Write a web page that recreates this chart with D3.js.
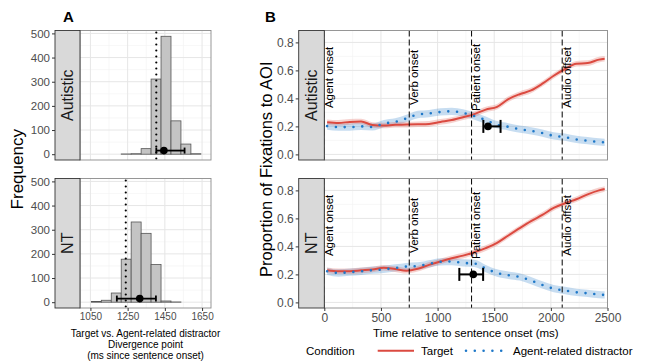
<!DOCTYPE html>
<html>
<head>
<meta charset="utf-8">
<script src="https://cdn.jsdelivr.net/npm/d3@7"></script>
<style>
  body { margin: 0; background: #fff; }
  svg { font-family: "Liberation Sans", Arial, sans-serif; }
  .tick text { fill: #4d4d4d; }
  .tick line { stroke: #333; }
</style>
</head>
<body>
<div id="chart"></div>
<script>
// ---- data ----
var groups = ["Autistic", "NT"];

// panel A: bootstrap histogram of divergence points
var binEdges = [1055, 1108.5, 1162, 1215.5, 1269, 1322.5, 1376, 1429.5, 1483, 1536.5, 1590, 1643.5];
var autisticCounts = [0, 0, 0, 1, 2, 23, 311, 488, 138, 42, 2];
var ntCounts = [3, 8, 38, 178, 332, 285, 156, 5, 1, 0, 0];
var refLine = [1404, 1240];
var divEstimate = [1445, 1315];
var divLow = [1404, 1192];
var divHigh = [1556, 1402];
var histTicks = [1050, 1250, 1450, 1650];

// panel B: proportion of fixations over time
var times = [25, 125, 225, 325, 425, 525, 625, 725, 825, 925, 1025, 1125, 1225,
  1325, 1425, 1525, 1625, 1725, 1825, 1925, 2025, 2125, 2225, 2325, 2425, 2475];
var autTarget = [0.23, 0.225, 0.232, 0.235, 0.21, 0.206, 0.212, 0.213, 0.215, 0.218, 0.232, 0.245, 0.265,
  0.288, 0.32, 0.34, 0.395, 0.43, 0.457, 0.505, 0.562, 0.61, 0.648, 0.652, 0.677, 0.683];
var autDistractor = [0.202, 0.195, 0.195, 0.2, 0.196, 0.22, 0.232, 0.257, 0.285, 0.292, 0.303, 0.308, 0.296,
  0.274, 0.245, 0.212, 0.197, 0.18, 0.168, 0.152, 0.133, 0.123, 0.107, 0.098, 0.089, 0.086];
var ntTarget = [0.23, 0.222, 0.223, 0.229, 0.235, 0.248, 0.238, 0.226, 0.24, 0.268, 0.292, 0.315, 0.334,
  0.358, 0.388, 0.425, 0.478, 0.53, 0.58, 0.625, 0.675, 0.708, 0.737, 0.772, 0.8, 0.81];
var ntDistractor = [0.222, 0.21, 0.216, 0.222, 0.23, 0.236, 0.246, 0.256, 0.26, 0.275, 0.29, 0.292, 0.282,
  0.278, 0.242, 0.21, 0.194, 0.182, 0.156, 0.125, 0.098, 0.085, 0.072, 0.065, 0.056, 0.053];
var targetBand = 0.02, distractorBand = 0.026;
var eventTimes = [0, 750, 1300, 2100];
var eventNames = ["Agent onset", "Verb onset", "Patient onset", "Audio offset"];
var propTicks = [0, 0.2, 0.4, 0.6, 0.8];
var timeTicks = [0, 500, 1000, 1500, 2000, 2500];
var divPropY = 0.2;

// ---- layout ----
var W = 669, H = 363;
var rows = [{y0: 30.5, y1: 160}, {y0: 178.5, y1: 308}];
var pA = {s0: 55, x0: 80, x1: 211};
var pB = {s0: 298.7, x0: 324.3, x1: 607.5};
var red = "#db4a40", blue = "#1f78c8";

var svg = d3.select("#chart").append("svg").attr("width", W).attr("height", H);

var xA = d3.scaleLinear().domain([994, 1698]).range([pA.x0, pA.x1]);
var xB = d3.scaleLinear().domain([0, 2500]).range([pB.x0, pB.x1]);

function grid(g, x, y, xMaj, xMin, yMaj, yMin, r, x0, x1) {
  xMin.forEach(function(v) {
    g.append("line").attr("x1", x(v)).attr("x2", x(v)).attr("y1", r.y0).attr("y2", r.y1)
      .attr("stroke", "#f2f2f2").attr("stroke-width", 0.6);
  });
  yMin.forEach(function(v) {
    g.append("line").attr("x1", x0).attr("x2", x1).attr("y1", y(v)).attr("y2", y(v))
      .attr("stroke", "#f2f2f2").attr("stroke-width", 0.6);
  });
  xMaj.forEach(function(v) {
    g.append("line").attr("x1", x(v)).attr("x2", x(v)).attr("y1", r.y0).attr("y2", r.y1)
      .attr("stroke", "#e6e6e6").attr("stroke-width", 1);
  });
  yMaj.forEach(function(v) {
    g.append("line").attr("x1", x0).attr("x2", x1).attr("y1", y(v)).attr("y2", y(v))
      .attr("stroke", "#e6e6e6").attr("stroke-width", 1);
  });
}

function strip(g, s0, s1, r, label) {
  g.append("rect").attr("x", s0).attr("y", r.y0).attr("width", s1 - s0).attr("height", r.y1 - r.y0)
    .attr("fill", "#d9d9d9").attr("stroke", "#333").attr("stroke-width", 0.9);
  g.append("text").attr("transform", "translate(" + ((s0 + s1) / 2 + 5.8) + "," + ((r.y0 + r.y1) / 2) + ") rotate(-90)")
    .attr("text-anchor", "middle").attr("font-size", 16).attr("fill", "#1a1a1a").text(label);
}

function styleAxis(a, size) {
  a.select(".domain").remove();
  a.selectAll(".tick text").attr("font-size", size);
}

// ---- panel A ----
rows.forEach(function(r, i) {
  var g = svg.append("g");
  var y = d3.scaleLinear().domain([-24, 512]).range([r.y1, r.y0]);
  var counts = i === 0 ? autisticCounts : ntCounts;
  grid(g, xA, y, histTicks, [1150, 1350, 1550], [0, 100, 200, 300, 400, 500], [50, 150, 250, 350, 450], r, pA.x0, pA.x1);

  g.selectAll("rect.bar").data(counts).enter().append("rect").attr("class", "bar")
    .attr("x", function(d, j) { return xA(binEdges[j]); })
    .attr("width", function(d, j) { return xA(binEdges[j + 1]) - xA(binEdges[j]); })
    .attr("y", function(d) { return y(d); })
    .attr("height", function(d) { return y(0) - y(d); })
    .attr("fill", "#c4c4c4").attr("stroke", "#555").attr("stroke-width", 0.8);

  g.append("line").attr("x1", xA(refLine[i])).attr("x2", xA(refLine[i])).attr("y1", r.y0 + 2).attr("y2", r.y1)
    .attr("stroke", "#000").attr("stroke-width", 2.2).attr("stroke-linecap", "round").attr("stroke-dasharray", "0,6");

  var ey = y(15);
  g.append("line").attr("x1", xA(divLow[i])).attr("x2", xA(divHigh[i])).attr("y1", ey).attr("y2", ey)
    .attr("stroke", "#000").attr("stroke-width", 1.8);
  [divLow[i], divHigh[i]].forEach(function(v) {
    g.append("line").attr("x1", xA(v)).attr("x2", xA(v)).attr("y1", ey - 3).attr("y2", ey + 3)
      .attr("stroke", "#000").attr("stroke-width", 1.8);
  });
  g.append("circle").attr("cx", xA(divEstimate[i])).attr("cy", ey).attr("r", 3.8).attr("fill", "#000");

  g.append("rect").attr("x", pA.x0).attr("y", r.y0).attr("width", pA.x1 - pA.x0).attr("height", r.y1 - r.y0)
    .attr("fill", "none").attr("stroke", "#8c8c8c").attr("stroke-width", 0.9);
  strip(g, pA.s0, pA.x0, r, groups[i]);

  var ay = g.append("g").attr("transform", "translate(" + pA.s0 + ",0)")
    .call(d3.axisLeft(y).tickValues([0, 100, 200, 300, 400, 500]).tickSize(3).tickPadding(2));
  styleAxis(ay, 11.5);
  if (i === 1) {
    var ax = g.append("g").attr("transform", "translate(0," + r.y1 + ")")
      .call(d3.axisBottom(xA).tickValues(histTicks).tickFormat(d3.format("d")).tickSize(3).tickPadding(2));
    styleAxis(ax, 10);
  }
});

svg.append("text").attr("transform", "translate(22.5," + ((rows[0].y0 + rows[1].y1) / 2) + ") rotate(-90)")
  .attr("text-anchor", "middle").attr("font-size", 17).text("Frequency");
["Target vs. Agent-related distractor", "Divergence point", "(ms since sentence onset)"].forEach(function(t, k) {
  svg.append("text").attr("x", (pA.x0 + pA.x1) / 2).attr("y", 337.3 + k * 10.6).attr("text-anchor", "middle")
    .attr("font-size", 10).text(t);
});
svg.append("text").attr("x", 63).attr("y", 22).attr("font-size", 15).attr("font-weight", "bold").text("A");

// ---- panel B ----
rows.forEach(function(r, i) {
  var g = svg.append("g");
  var y = d3.scaleLinear().domain([-0.04, 0.885]).range([r.y1, r.y0]);
  var tgt = i === 0 ? autTarget : ntTarget;
  var dis = i === 0 ? autDistractor : ntDistractor;
  grid(g, xB, y, timeTicks, [250, 750, 1250, 1750, 2250], propTicks, [0.1, 0.3, 0.5, 0.7], r, pB.x0, pB.x1);

  var band = function(vals, w) {
    return d3.area().curve(d3.curveMonotoneX)
      .x(function(d, j) { return xB(times[j]); })
      .y0(function(d) { return y(d - w); })
      .y1(function(d) { return y(d + w); })(vals);
  };
  var line = d3.line().curve(d3.curveMonotoneX)
    .x(function(d, j) { return xB(times[j]); })
    .y(function(d) { return y(d); });

  g.append("path").attr("d", band(dis, distractorBand)).attr("fill", blue).attr("fill-opacity", 0.25);
  g.append("path").attr("d", band(tgt, targetBand)).attr("fill", red).attr("fill-opacity", 0.25);
  g.append("path").attr("d", line(tgt)).attr("fill", "none").attr("stroke", red).attr("stroke-width", 2);
  g.append("path").attr("d", line(dis)).attr("fill", "none").attr("stroke", blue).attr("stroke-width", 2.6)
    .attr("stroke-linecap", "round").attr("stroke-dasharray", "0,8.8");

  eventTimes.forEach(function(t, k) {
    g.append("line").attr("x1", xB(t)).attr("x2", xB(t)).attr("y1", r.y0).attr("y2", r.y1)
      .attr("stroke", "#000").attr("stroke-width", 1).attr("stroke-dasharray", "6,3");
    g.append("text").attr("transform", "translate(" + (xB(t) + 8.8) + "," + y(0.55) + ") rotate(-90)")
      .attr("text-anchor", "middle").attr("font-size", 11.5).attr("fill", "#000").text(eventNames[k]);
  });

  var ey = y(divPropY);
  g.append("line").attr("x1", xB(divLow[i])).attr("x2", xB(divHigh[i])).attr("y1", ey).attr("y2", ey)
    .attr("stroke", "#000").attr("stroke-width", 2);
  [divLow[i], divHigh[i]].forEach(function(v) {
    g.append("line").attr("x1", xB(v)).attr("x2", xB(v)).attr("y1", ey - 6.5).attr("y2", ey + 6.5)
      .attr("stroke", "#000").attr("stroke-width", 2);
  });
  g.append("circle").attr("cx", xB(divEstimate[i])).attr("cy", ey).attr("r", 3.8).attr("fill", "#000");

  g.append("rect").attr("x", pB.x0).attr("y", r.y0).attr("width", pB.x1 - pB.x0).attr("height", r.y1 - r.y0)
    .attr("fill", "none").attr("stroke", "#8c8c8c").attr("stroke-width", 0.9);
  strip(g, pB.s0, pB.x0, r, groups[i]);

  var ay = g.append("g").attr("transform", "translate(" + pB.s0 + ",0)")
    .call(d3.axisLeft(y).tickValues(propTicks).tickFormat(d3.format(".1f")).tickSize(3).tickPadding(2));
  styleAxis(ay, 12);
  if (i === 1) {
    var ax = g.append("g").attr("transform", "translate(0," + r.y1 + ")")
      .call(d3.axisBottom(xB).tickValues(timeTicks).tickFormat(d3.format("d")).tickSize(3).tickPadding(2));
    styleAxis(ax, 12);
  }
});

svg.append("text").attr("transform", "translate(272," + ((rows[0].y0 + rows[1].y1) / 2) + ") rotate(-90)")
  .attr("text-anchor", "middle").attr("font-size", 16.5).text("Proportion of Fixations to AOI");
svg.append("text").attr("x", (pB.x0 + pB.x1) / 2).attr("y", 337).attr("text-anchor", "middle")
  .attr("font-size", 11.5).text("Time relative to sentence onset (ms)");
svg.append("text").attr("x", 265).attr("y", 22).attr("font-size", 15).attr("font-weight", "bold").text("B");

// legend
var lg = svg.append("g");
lg.append("text").attr("x", 306).attr("y", 354.5).attr("font-size", 11.5).text("Condition");
lg.append("line").attr("x1", 377.7).attr("x2", 414).attr("y1", 350.7).attr("y2", 350.7)
  .attr("stroke", red).attr("stroke-width", 2);
lg.append("text").attr("x", 421).attr("y", 354.5).attr("font-size", 11.5).text("Target");
lg.append("line").attr("x1", 466).attr("x2", 503).attr("y1", 350.7).attr("y2", 350.7)
  .attr("stroke", blue).attr("stroke-width", 2.6).attr("stroke-linecap", "round").attr("stroke-dasharray", "0,8.8");
lg.append("text").attr("x", 513).attr("y", 354.5).attr("font-size", 11.5).text("Agent-related distractor");
</script>
</body>
</html>
